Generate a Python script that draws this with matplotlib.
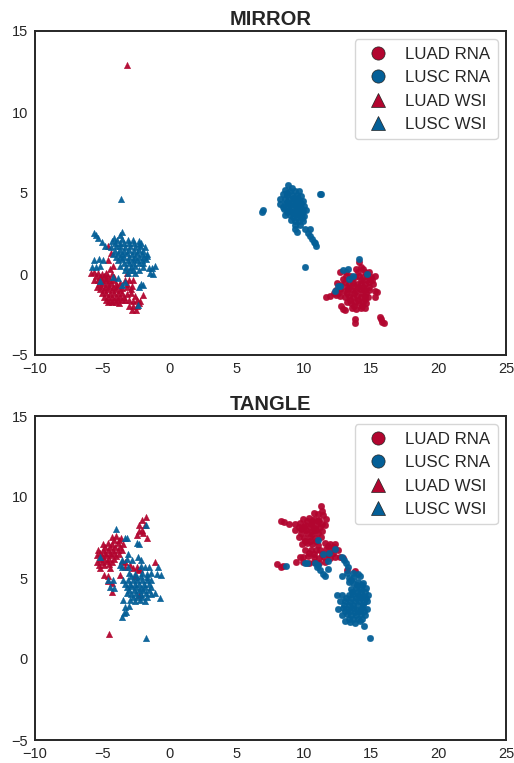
import matplotlib
matplotlib.use('Agg')
import matplotlib.pyplot as plt
from matplotlib.lines import Line2D

#points (x, y)
mirror_luad_rna = [(14.07,0.75),(14.2,0.45),(14.35,0.3),(13.85,0.3),(14.0,0.1),(12.7,0.12),(13.1,0.15),(14.5,0.15),(14.85,0.1),
	(13.1,-0.15),(13.4,-0.1),(13.75,-0.2),(14.05,-0.15),(14.35,-0.2),(14.65,-0.15),(15.0,-0.2),(15.25,-0.15),
	(12.45,-0.55),(12.75,-0.65),(13.05,-0.5),(13.35,-0.6),(13.65,-0.55),(13.95,-0.6),(14.25,-0.55),(14.55,-0.6),(14.85,-0.5),(15.1,-0.6),
	(12.35,-1.0),(12.65,-0.95),(12.95,-1.05),(13.25,-0.95),(13.55,-1.0),(13.85,-1.05),(14.15,-0.95),(14.45,-1.0),(14.85,-1.0),
	(11.65,-1.4),(11.9,-1.35),(12.35,-1.3),(12.7,-1.35),(13.0,-1.4),(13.3,-1.35),(13.6,-1.4),(13.9,-1.35),(14.2,-1.4),(14.5,-1.35),(14.75,-1.4),
	(13.2,-1.75),(13.5,-1.8),(13.8,-1.75),(14.1,-1.8),(14.4,-1.75),(14.6,-1.8),(13.55,-2.1),(13.85,-2.15),(14.2,-2.1),(14.5,-2.1),
	(15.3,-1.05),(15.4,-1.1),(15.3,-1.45),(12.75,-1.95),(12.9,-2.15),(13.05,-2.2),(13.8,-2.8),(13.75,-3.05),
	(15.6,-2.65),(15.7,-2.8),(15.8,-2.95),(15.9,-3.05),(13.55,-0.3),(12.9,-0.3),(14.8,-0.8),
	(13.6,-0.75),(13.2,-0.8),(14.0,-0.8),(14.4,-0.8),(14.7,-0.35),(14.2,-0.35),(13.15,-1.2),(13.7,-1.2),(14.3,-1.2),(14.6,-1.2),(13.4,-1.6),(14.0,-1.6),(14.5,-1.55),(13.7,-1.95),(14.3,-1.95),(12.2,-1.2),(12.55,-1.15),(14.9,-0.3),(15.05,-0.4)]
mirror_lusc_rna = [(8.8,5.5),(9.1,5.3),(8.6,5.2),(8.95,5.1),(9.3,5.15),(9.6,5.1),(8.4,4.95),(8.75,4.85),(9.1,4.9),(9.45,4.85),(9.8,4.8),
	(8.2,4.6),(8.55,4.6),(8.9,4.55),(9.25,4.6),(9.6,4.55),(9.95,4.5),(8.2,4.3),(8.6,4.3),(8.95,4.25),(9.3,4.3),(9.65,4.25),(10.0,4.2),
	(8.5,4.0),(8.85,3.95),(9.2,4.0),(9.55,3.95),(9.9,3.9),(10.15,3.95),(8.6,3.65),(8.95,3.65),(9.3,3.7),(9.65,3.65),(10.0,3.6),
	(9.0,3.35),(9.3,3.3),(9.65,3.3),(9.95,3.3),(9.35,3.0),(9.7,3.0),(9.35,2.75),(9.5,2.6),(10.1,2.75),(10.25,2.55),(10.45,2.75),
	(10.4,2.35),(10.55,2.15),(10.7,2.0),(10.9,1.75),(10.8,1.9),(6.85,3.85),(6.95,3.95),(11.15,4.95),(11.25,4.95),(10.07,0.45),
	(14.07,0.95),(12.9,0.25),(13.25,0.3),(13.6,-0.1),(13.3,-0.3),(14.67,0.0),(12.3,-1.05),(12.5,-0.75),(12.65,-0.75),
	(8.75,5.0),(9.15,4.7),(9.5,4.7),(8.7,4.45),(9.1,4.4),(9.45,4.4),(9.8,4.4),(8.4,4.15),(8.8,4.1),(9.4,4.15),(9.8,4.1),(8.75,3.8),(9.1,3.8),(9.45,3.8),(9.85,3.75),(9.15,3.5),(9.5,3.5),(9.85,3.45)]
mirror_luad_wsi = [(-3.2,12.9),(-5.85,0.05),(-5.6,0.1),(-5.3,0.05),(-5.0,0.0),(-4.7,0.05),(-4.3,0.0),
	(-5.65,-0.35),(-5.35,-0.4),(-5.05,-0.35),(-4.75,-0.4),(-4.45,-0.35),(-4.1,-0.4),(-3.3,-0.35),(-3.0,-0.4),(-2.75,-0.35),
	(-5.4,-0.8),(-5.1,-0.75),(-4.8,-0.8),(-4.5,-0.75),(-4.2,-0.8),(-3.9,-0.75),(-3.5,-0.85),(-3.2,-0.8),(-2.8,-0.75),
	(-5.05,-1.2),(-4.75,-1.15),(-4.45,-1.25),(-4.15,-1.2),(-3.85,-1.15),(-3.5,-1.2),(-3.2,-1.25),(-2.85,-1.2),(-2.0,-1.3),
	(-4.75,-1.6),(-4.4,-1.65),(-4.1,-1.6),(-3.8,-1.55),(-3.3,-1.6),(-3.0,-1.6),(-2.7,-1.65),(-2.4,-1.6),(-2.2,-1.65),
	(-3.05,-1.95),(-2.75,-2.0),(-2.45,-1.95),(-2.8,-2.2),(-2.5,-2.25),(-4.6,1.7),(-4.35,1.3),(-4.55,0.85),(-4.2,0.5),(-4.4,0.3),(-3.2,0.05),
	(-5.45,-0.15),(-5.15,-0.2),(-4.85,-0.15),(-4.55,-0.15),(-5.25,-0.6),(-4.95,-0.55),(-4.65,-0.6),(-4.35,-0.55),(-4.0,-0.6),(-4.9,-1.0),(-4.6,-0.95),(-4.3,-1.0),(-4.0,-0.95),(-3.65,-1.0),
	(-4.6,-1.4),(-4.25,-1.4),(-3.95,-1.4),(-3.65,-1.4),(-3.35,-1.4),(-4.55,-1.75),(-4.25,-1.75),(-3.95,-1.75),(-3.15,-0.6),(-2.9,-0.95),(-2.6,-1.35),(-2.3,-1.8),
	(-5.2,-0.95),(-4.85,-1.4),(-3.75,-1.8),(-3.5,-1.6),(-4.7,-0.25),(-4.15,-0.2),(-3.65,-0.55)]
mirror_lusc_wsi = [(-3.6,4.65),(-5.65,2.55),(-5.5,2.4),(-5.3,2.2),(-5.0,1.95),(-4.8,1.75),(-4.1,2.25),(-3.55,2.6),(-3.7,2.4),
	(-4.25,2.05),(-3.9,2.1),(-3.5,2.15),(-3.1,2.1),(-2.7,2.1),(-2.3,2.05),
	(-4.35,1.65),(-4.0,1.7),(-3.65,1.7),(-3.3,1.65),(-2.95,1.7),(-2.6,1.65),(-2.2,1.7),(-1.85,1.65),
	(-4.2,1.25),(-3.85,1.3),(-3.5,1.25),(-3.15,1.3),(-2.8,1.25),(-2.45,1.3),(-2.05,1.25),(-1.65,1.25),
	(-5.6,0.85),(-5.25,0.9),(-4.95,0.85),(-3.85,0.85),(-3.5,0.9),(-3.1,0.85),(-2.75,0.9),(-2.4,0.85),(-2.05,0.85),(-1.75,0.9),
	(-5.75,0.45),(-5.45,0.45),(-5.2,0.5),(-3.65,0.5),(-3.25,0.45),(-2.9,0.45),(-2.55,0.5),(-2.0,0.45),(-1.55,0.4),(-1.3,0.35),(-1.1,0.5),
	(-3.1,0.05),(-2.6,0.05),(-1.45,0.05),(-1.2,0.0),(-4.2,-0.17),(-3.8,-0.27),(-3.56,-0.68),(-3.3,-0.5),(-5.2,-0.44),(-1.95,-0.68),(-2.15,-0.6),(-2.3,-0.8),(-2.37,-1.92),
	(-4.05,1.9),(-3.7,1.9),(-3.35,1.9),(-3.0,1.9),(-2.65,1.9),(-2.3,1.85),(-4.05,1.45),(-3.7,1.5),(-3.35,1.45),(-3.0,1.5),(-2.65,1.45),(-2.3,1.5),(-1.95,1.45),
	(-3.7,1.05),(-3.35,1.05),(-3.0,1.05),(-2.6,1.05),(-2.25,1.05),(-1.9,1.05),(-3.4,0.65),(-3.05,0.65),(-2.7,0.65),(-2.3,0.65),(-2.75,0.25),(-2.3,0.25),
	(-4.0,1.05),(-2.1,1.9),(-1.95,0.65),(-1.7,1.1),(-3.3,0.25),(-2.95,0.25)]

tangle_luad_rna = [(11.25,9.45),(11.3,9.15),(10.7,9.0),(11.05,8.95),(11.4,8.9),(9.95,8.65),(10.35,8.7),(10.7,8.65),(11.1,8.6),(11.6,8.65),
	(8.3,8.5),(8.5,8.45),(8.85,8.35),(9.35,8.35),(9.7,8.4),(10.1,8.3),(10.5,8.35),(10.9,8.3),(11.3,8.35),(11.55,8.3),
	(9.35,7.95),(9.75,8.0),(10.15,7.95),(10.55,7.9),(10.9,7.95),(11.3,7.9),(9.6,7.55),(10.0,7.5),(10.4,7.55),(10.8,7.5),(11.25,7.55),
	(9.85,7.1),(10.2,7.15),(10.6,7.1),(11.0,7.05),(11.55,7.15),(11.9,7.1),(12.3,7.1),(10.1,6.75),(10.5,6.7),(10.85,6.75),(11.2,6.7),(11.65,6.8),(12.05,6.75),(12.5,6.7),
	(9.95,6.3),(10.3,6.35),(10.7,6.3),(11.1,6.25),(11.5,6.3),(11.9,6.25),(12.3,6.3),(12.7,6.3),(12.9,6.25),
	(9.4,6.0),(9.95,6.0),(10.35,5.95),(10.7,6.0),(11.1,5.95),(11.55,6.0),(9.7,6.3),(8.0,5.85),(8.3,5.7),(8.45,5.75),(13.16,5.5),(13.78,5.43),
	(10.2,8.5),(10.6,8.5),(11.0,8.5),(9.6,8.15),(10.0,8.15),(10.4,8.15),(10.75,8.1),(11.15,8.15),(9.8,7.75),(10.2,7.75),(10.6,7.7),(11.0,7.75),(10.05,7.3),(10.45,7.3),(10.85,7.3),(10.35,6.55),(10.7,6.5),(11.35,6.5),(11.75,6.5),(12.15,6.55),(12.2,6.9),(11.8,6.95)]
tangle_lusc_rna = [(12.8,6.3),(12.95,6.1),(13.1,5.9),(13.28,5.65),(13.2,5.3),(13.6,5.3),(14.0,5.25),(12.85,5.15),(13.3,5.0),(13.7,5.05),(14.15,5.1),
	(13.3,4.75),(13.65,4.7),(14.0,4.75),(14.4,4.7),(13.5,4.35),(13.85,4.4),(14.2,4.35),(14.6,4.4),
	(12.45,3.95),(12.8,3.95),(13.3,3.95),(13.65,4.0),(14.0,3.95),(14.35,3.9),(14.75,3.95),(12.7,3.55),(13.05,3.6),(13.4,3.5),(13.75,3.55),(14.1,3.6),(14.45,3.5),(14.65,3.6),
	(12.55,3.1),(12.9,3.15),(13.25,3.1),(13.6,3.15),(13.95,3.05),(14.3,3.15),(14.65,3.1),(12.8,2.7),(13.15,2.75),(13.5,2.7),(13.85,2.7),(14.2,2.75),(14.5,2.7),
	(13.05,2.35),(13.4,2.3),(13.75,2.25),(14.15,2.35),(14.45,2.05),(14.9,1.3),
	(10.06,5.94),(10.2,5.95),(10.8,5.9),(11.05,5.8),(10.95,5.65),(11.18,5.5),(11.43,5.24),(11.55,5.12),(11.75,5.53),(11.75,6.05),(11.0,7.34),(11.43,6.46),(11.87,6.52),(12.32,6.79),(8.65,5.74),
	(13.5,4.85),(13.9,4.55),(14.3,4.55),(13.55,4.15),(13.9,4.15),(14.25,4.15),(14.55,4.15),(13.1,3.75),(13.5,3.75),(13.85,3.75),(14.25,3.75),(14.6,3.75),(12.95,3.35),(13.3,3.35),(13.65,3.35),(14.0,3.35),(14.4,3.35),(13.05,2.95),(13.4,2.95),(13.75,2.9),(14.15,2.95),(14.45,2.95),(13.3,2.5),(13.65,2.5),(14.0,2.5),(14.3,2.5)]
tangle_luad_wsi = [(-1.76,8.74),(-2.08,8.58),(-2.25,8.27),(-1.85,8.3),(-2.45,7.65),(-1.95,7.75),(-1.7,7.5),(-2.08,7.96),(-2.3,7.9),
	(-4.3,7.55),(-3.95,7.6),(-3.6,7.5),(-4.95,7.1),(-4.6,7.15),(-4.25,7.1),(-3.85,7.15),(-3.45,7.1),(-5.3,6.7),(-4.95,6.75),(-4.6,6.7),(-4.2,6.7),(-3.85,6.75),(-3.55,6.7),
	(-5.4,6.4),(-5.05,6.35),(-4.7,6.4),(-4.35,6.4),(-3.95,6.35),(-5.4,6.0),(-5.05,6.0),(-4.65,6.05),(-4.25,6.0),(-3.55,6.05),(-3.3,6.0),
	(-5.15,5.6),(-4.45,5.6),(-2.7,5.6),(-2.4,5.65),(-2.2,5.55),(-4.9,5.2),(-4.6,5.15),(-3.7,5.2),(-2.55,5.15),(-4.55,4.8),(-4.3,4.7),(-4.25,4.15),
	(-1.05,6.0),(-2.25,3.95),(-2.95,5.8),(-3.3,5.7),(-2.35,5.5),(-4.5,1.55),
	(-4.1,7.35),(-3.75,7.35),(-4.8,6.9),(-4.45,6.9),(-4.05,6.9),(-3.7,6.9),(-5.15,6.55),(-4.8,6.55),(-4.45,6.55),(-4.1,6.55),(-3.75,6.5),(-5.2,6.2),(-4.85,6.2),(-4.5,6.2),(-4.15,6.2),(-5.25,5.8),(-4.85,5.8),(-4.5,5.85)]
tangle_lusc_wsi = [(-3.98,8.0),(-3.3,7.5),(-3.15,7.45),(-2.4,7.17),(-2.3,7.1),(-1.76,8.27),(-5.17,6.27),(-3.07,6.5),(-3.69,5.8),(-2.35,6.3),
	(-3.55,6.1),(-3.2,6.15),(-2.8,6.1),(-2.1,6.1),(-3.5,5.7),(-3.1,5.7),(-2.15,5.75),(-1.8,5.7),(-1.5,5.65),(-0.85,5.7),
	(-3.05,5.3),(-2.6,5.25),(-2.05,5.3),(-1.7,5.25),(-1.35,5.3),(-0.95,5.25),(-0.6,5.2),
	(-4.55,4.85),(-4.2,4.9),(-3.45,4.85),(-3.1,4.9),(-2.75,4.85),(-2.4,4.9),(-2.05,4.85),(-1.7,4.9),(-1.35,4.85),
	(-4.4,4.45),(-4.1,4.4),(-3.2,4.45),(-2.85,4.5),(-2.5,4.45),(-2.15,4.4),(-1.8,4.45),(-1.4,4.45),
	(-3.2,4.05),(-2.85,4.0),(-2.5,4.05),(-2.15,4.0),(-1.75,4.05),(-1.4,4.0),(-1.1,4.05),(-0.72,3.74),
	(-2.95,3.65),(-2.55,3.6),(-2.2,3.65),(-1.85,3.6),(-3.45,3.65),(-3.3,3.2),(-3.05,3.25),(-3.25,2.9),(-3.4,2.85),(-3.55,2.6),(-1.75,1.3),
	(-2.85,5.1),(-2.45,5.05),(-2.1,5.1),(-1.7,5.05),(-3.3,4.65),(-2.95,4.65),(-2.6,4.65),(-2.25,4.65),(-1.9,4.65),(-1.55,4.65),(-3.0,4.25),(-2.65,4.25),(-2.3,4.25),(-1.95,4.25),(-1.55,4.25),(-2.75,3.8),(-2.4,3.8),(-2.05,3.8),(-1.65,3.8)]

titles = ['MIRROR', 'TANGLE']
panels = [[mirror_luad_rna, mirror_lusc_rna, mirror_luad_wsi, mirror_lusc_wsi],
	[tangle_luad_rna, tangle_lusc_rna, tangle_luad_wsi, tangle_lusc_wsi]]
labels = ['LUAD RNA', 'LUSC RNA', 'LUAD WSI', 'LUSC WSI']
colors = ['#b2052f', '#045f97', '#b2052f', '#045f97']
markers = ['o', 'o', '^', '^']
xticks = [-10, -5, 0, 5, 10, 15, 20, 25]
yticks = [-5, 0, 5, 10, 15]

plt.rcParams['font.family'] = ['Liberation Sans', 'DejaVu Sans']
text_color = '#262626'

fig = plt.figure(figsize=(5.14, 7.63), dpi=100)
tops = [31, 416]
for i in range(2):
	#axes box in pixels of the picture
	ax = fig.add_axes([35/514, 1-(tops[i]+324)/763, 471/514, 324/763])
	for j in range(4):
		xs = [p[0] for p in panels[i][j]]
		ys = [p[1] for p in panels[i][j]]
		ax.scatter(xs, ys, s=23, c=colors[j], marker=markers[j], edgecolors=colors[j], linewidths=0.2, alpha=0.95)
	ax.set_xlim(-10, 25)
	ax.set_ylim(-5, 15)
	ax.set_xticks(xticks)
	ax.set_yticks(yticks)
	ax.tick_params(length=0, labelsize=10.5, colors=text_color, pad=5)
	ax.set_title(titles[i], fontsize=14.5, fontweight='bold', color=text_color, pad=4)
	for s in ax.spines.values():
		s.set_linewidth(1.4)
		s.set_color(text_color)
	handles = []
	for j in range(4):
		handles.append(Line2D([], [], linestyle='', marker=markers[j], markersize=9.5, markerfacecolor=colors[j], markeredgecolor='#222222', markeredgewidth=0.5, label=labels[j]))
	ax.legend(handles=handles, loc='upper right', fontsize=12.2, labelcolor=text_color, borderpad=0.42, labelspacing=0.5, handletextpad=0.7, handlelength=1.85)

fig.savefig('out.png', dpi=100)
